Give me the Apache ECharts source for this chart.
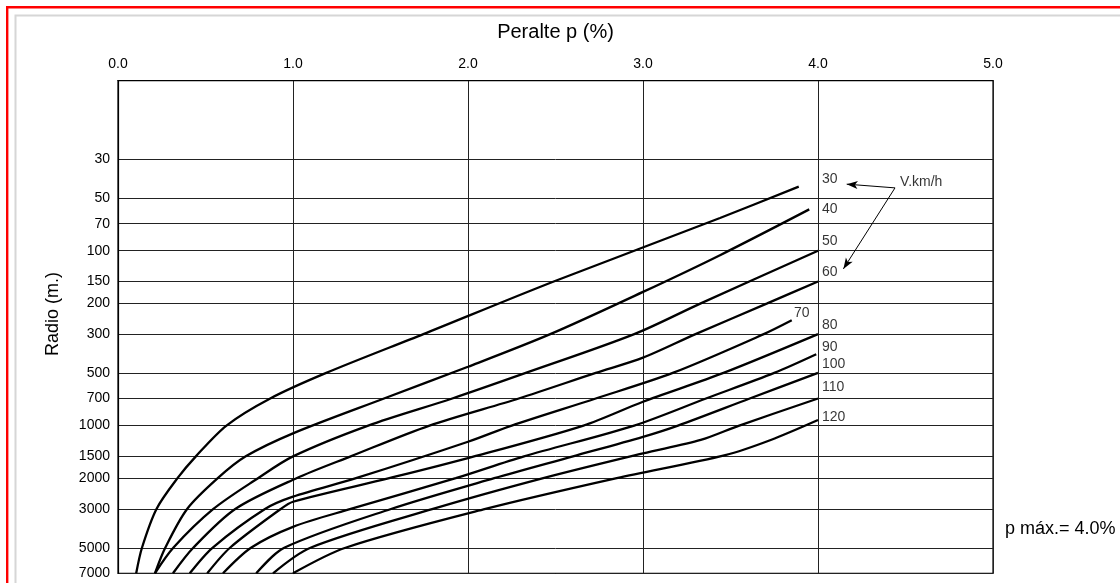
<!DOCTYPE html>
<html>
<head>
<meta charset="utf-8">
<script src="https://cdn.jsdelivr.net/npm/echarts@6/dist/echarts.min.js"></script>
<style>
  html, body { margin: 0; padding: 0; background: #fff; }
  #chart { width: 1120px; height: 583px; }
</style>
</head>
<body>
<div id="chart"></div>
<script>
// Design speeds (km/h), one curve each
const speeds = [30, 40, 50, 60, 70, 80, 90, 100, 110, 120];

// Radius grid values (m) and superelevation ticks (%)
const radiusTicks = [30, 50, 70, 100, 150, 200, 300, 500, 700, 1000, 1500, 2000, 3000, 5000, 7000];
const peralteTicks = [0, 1, 2, 3, 4, 5];

// Curves: [superelevation p (%), radius R (m)]
const v30  = [[0.104,7000],[0.137,5000],[0.22,3000],[0.34,2000],[0.445,1500],[0.62,1000],[0.87,700],[1.19,500],[1.745,300],[2.49,150],[3.44,65],[3.89,43]];
const v40  = [[0.211,7000],[0.27,5000],[0.395,3000],[0.57,2000],[0.73,1500],[1.0,1108],[1.52,700],[2.0,461],[2.47,300],[3.0,172],[3.44,106],[3.95,58]];
const v50  = [[0.211,7000],[0.316,5000],[0.545,3000],[0.80,2000],[1.0,1500],[1.43,1000],[1.91,700],[2.33,500],[2.95,300],[3.33,200],[4.0,100]];
const v60  = [[0.314,7000],[0.43,5000],[0.67,3000],[1.02,2000],[1.33,1500],[1.78,1000],[2.29,700],[2.73,500],[3.0,409],[3.30,300],[3.71,200],[4.0,150]];
const v70  = [[0.41,7000],[0.54,5000],[0.84,3000],[1.0,2550],[1.36,2000],[2.0,1238],[2.25,1000],[2.73,700],[3.17,500],[3.69,300],[3.85,250]];
const v80  = [[0.51,7000],[0.64,5000],[0.93,3000],[1.0,2728],[1.55,2000],[2.0,1535],[2.66,1000],[3.0,731],[3.46,500],[4.0,300]];
const v90  = [[0.60,7000],[0.76,5000],[1.0,3795],[1.33,3000],[1.93,2000],[2.32,1500],[2.95,1000],[3.36,700],[3.75,500],[3.99,391]];
const v100 = [[0.79,7000],[0.95,5000],[1.56,3000],[2.15,2000],[2.60,1500],[3.0,1160],[3.2,1000],[3.61,700],[4.0,500]];
const v110 = [[0.886,7000],[1.1,5000],[1.8,3000],[2.43,2000],[3.0,1443],[3.33,1209],[3.55,1000],[4.0,700]];
const v120 = [[1.0,7000],[1.3,5000],[2.1,3000],[2.85,2000],[3.47,1476],[3.73,1209],[4.0,930]];

const curves = [v30, v40, v50, v60, v70, v80, v90, v100, v110, v120];

// Where each speed label sits: [p, R]
const speedLabelAnchors = [[4.023,38.8],[4.023,57.7],[4.023,88],[4.023,132],[3.863,226],[4.023,268],[4.023,354],[4.023,445],[4.023,604],[4.023,891]];
const unitLabelAnchor = [4.469, 40.5];
// Leader arrows from the unit label: [[fromP, fromR], [toP, toR]]
const unitArrows = [[[4.44, 43.7], [4.164, 41.6]], [[4.44, 43.7], [4.145, 127]]];

const FONT = '"Liberation Sans", Arial, sans-serif';
const chart = echarts.init(document.getElementById('chart'), null, { renderer: 'canvas' });

const lineSeries = curves.map((pts, i) => ({
  name: speeds[i] + ' km/h',
  type: 'line',
  data: pts,
  smooth: 0.3,
  showSymbol: false,
  clip: true,
  lineStyle: { color: '#000', width: 2.3 },
  itemStyle: { color: '#000' },
  silent: true,
  z: 3
}));

// Leader arrows pointing from "V.km/h" to the speed labels
lineSeries[0].markLine = {
  silent: true,
  animation: false,
  label: { show: false },
  lineStyle: { color: '#000', width: 1, type: 'solid' },
  itemStyle: { color: '#000' },
  data: unitArrows.map(a => [
    { coord: a[0], symbol: 'none', symbolSize: 1 },
    { coord: a[1], symbol: 'arrow', symbolSize: [6, 11] }
  ])
};

const labelSeries = {
  type: 'scatter',
  symbolSize: 0,
  silent: true,
  z: 4,
  data: speeds.map((s, i) => ({ value: speedLabelAnchors[i], name: String(s) }))
    .concat([{ value: unitLabelAnchor, name: 'V.km/h' }]),
  label: {
    show: true,
    position: [0, 0],
    align: 'left',
    verticalAlign: 'middle',
    formatter: p => p.name,
    color: '#000',
    fontSize: 14,
    fontFamily: FONT
  }
};

const option = {
  animation: false,
  backgroundColor: '#fff',
  grid: {
    left: 118, top: 80.7, width: 875, height: 492.6,
    show: true, borderColor: '#000', borderWidth: 1.2, backgroundColor: 'transparent'
  },
  xAxis: {
    type: 'value',
    position: 'top',
    min: peralteTicks[0],
    max: peralteTicks[peralteTicks.length - 1],
    interval: 1,
    name: 'Peralte p (%)',
    nameLocation: 'middle',
    nameGap: 38,
    nameTextStyle: { fontSize: 20, color: '#000', fontFamily: FONT },
    axisLine: { show: true, lineStyle: { color: '#000', width: 1.2 } },
    axisTick: { show: false },
    axisLabel: { formatter: v => v.toFixed(1), fontSize: 14, color: '#000', fontFamily: FONT, margin: 10 },
    splitLine: { show: true, lineStyle: { color: '#222', width: 1 } }
  },
  yAxis: {
    type: 'log',
    logBase: 10,
    min: 10.65,
    max: 7000,
    inverse: true,
    name: 'Radio (m.)',
    nameLocation: 'middle',
    nameRotate: 90,
    nameGap: 56,
    nameTextStyle: { fontSize: 18, color: '#000', fontFamily: FONT, padding: [0, 0, 0, 26] },
    axisLine: { show: true, lineStyle: { color: '#000', width: 1.2 } },
    axisTick: { show: false, customValues: radiusTicks },
    axisLabel: {
      customValues: radiusTicks,
      formatter: v => String(Math.round(v)),
      fontSize: 14, color: '#000', fontFamily: FONT, margin: 8
    },
    splitLine: { show: true, lineStyle: { color: '#222', width: 1 } }
  },
  graphic: [
    { type: 'rect', silent: true, z: 10, shape: { x: 7.2, y: 7.2, width: 1300, height: 800 },
      style: { fill: 'none', stroke: '#ff0000', lineWidth: 2.4 } },
    { type: 'rect', silent: true, z: 10, shape: { x: 15.5, y: 15.5, width: 1300, height: 800 },
      style: { fill: 'none', stroke: '#d6d6d6', lineWidth: 2 } },
    { type: 'text', silent: true, z: 10, left: 1005, top: 520,
      style: { text: 'p máx.= 4.0%', fill: '#000', fontSize: 18, fontFamily: FONT } }
  ],
  series: lineSeries.concat([labelSeries])
};

chart.setOption(option);
</script>
</body>
</html>
